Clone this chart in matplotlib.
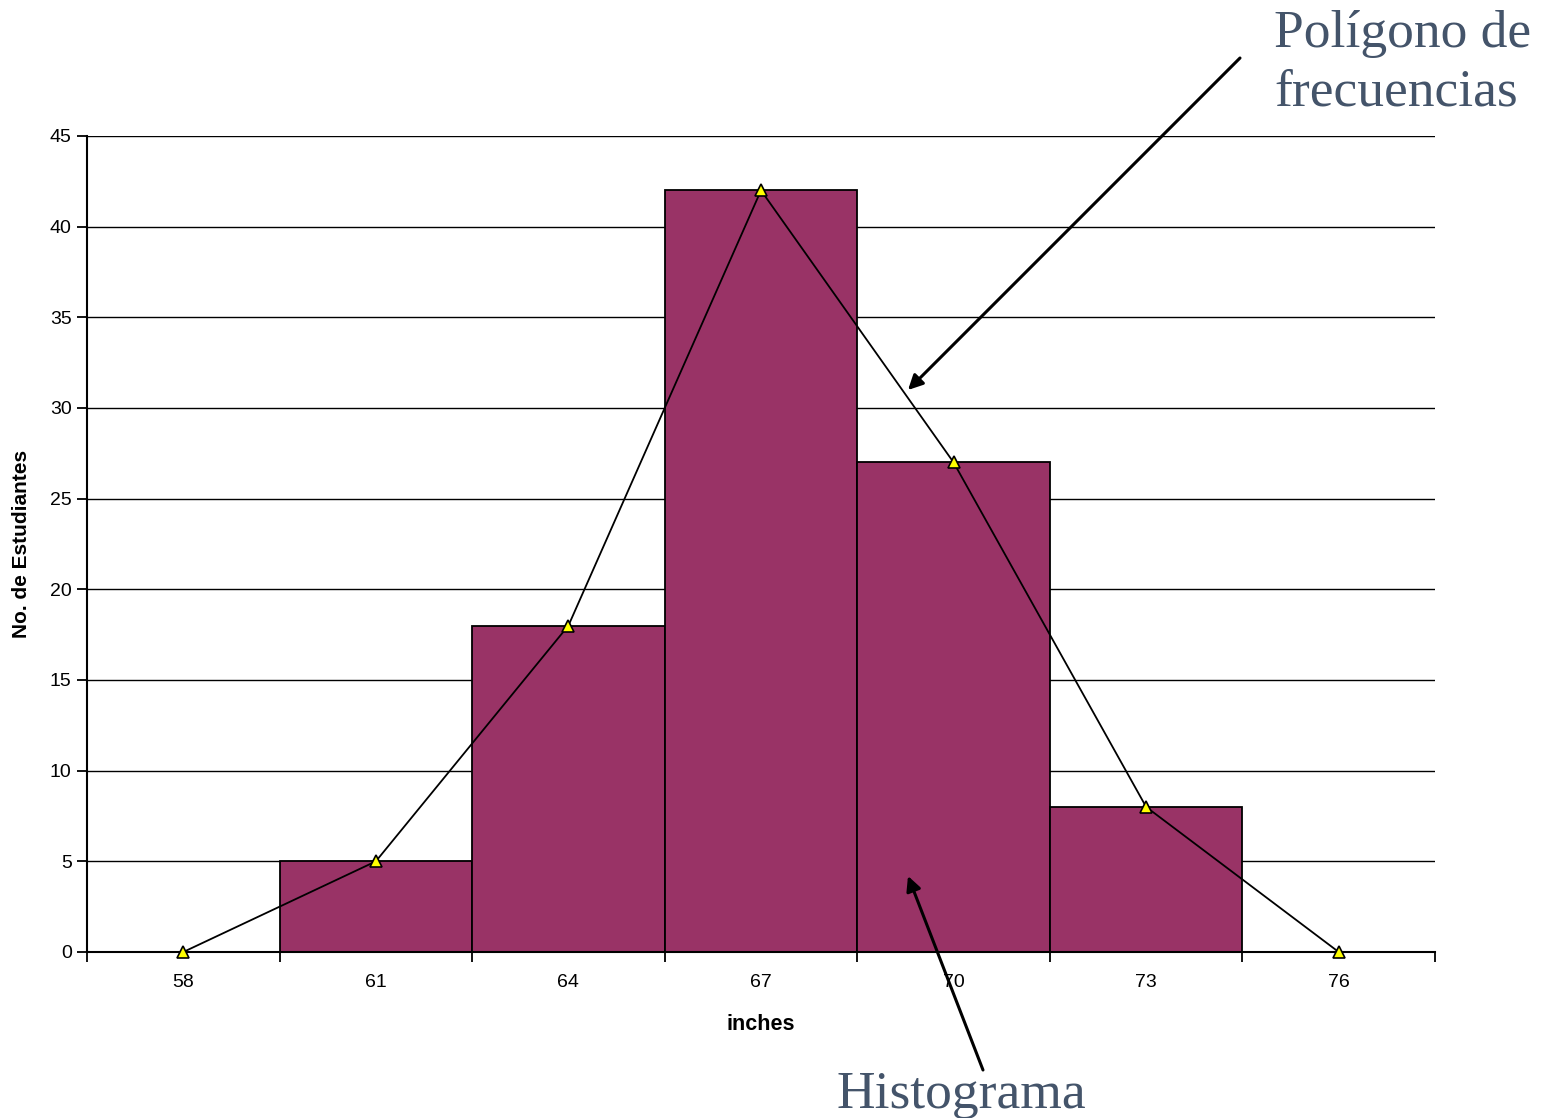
import matplotlib.pyplot as plt
from matplotlib.patches import FancyArrowPatch
from matplotlib.ticker import FixedLocator, NullFormatter

# data
categories = ['58', '61', '64', '67', '70', '73', '76']
hist_counts = [0, 5, 18, 42, 27, 8, 0]
poly_counts = [0, 5, 18, 42, 27, 8, 0]

bar_color = '#993366'
note_color = '#44546A'
sans = ['Liberation Sans', 'DejaVu Sans']
serif = ['Liberation Serif', 'DejaVu Serif']

fig = plt.figure(figsize=(15.52, 11.18), dpi=100)
ax = fig.add_axes([87 / 1552, 1 - 952 / 1118, (1435 - 87) / 1552, (952 - 136) / 1118])

x = list(range(len(categories)))
ax.bar(x, hist_counts, width=1.0, color=bar_color, edgecolor='black', linewidth=1.3, zorder=2)
ax.plot(x, poly_counts, color='black', linewidth=1.3, marker='^', markersize=8,
        markerfacecolor='#FFFF00', markeredgecolor='black', markeredgewidth=1.2,
        zorder=3, clip_on=False)

ax.set_xlim(-0.5, len(categories) - 0.5)
ax.set_ylim(0, 45)
ax.set_yticks(range(0, 46, 5))
ax.yaxis.grid(True, color='black', linewidth=1.0, zorder=0)
ax.set_axisbelow(True)

ax.set_xticks(x)
ax.set_xticklabels(categories)
ax.tick_params(axis='x', which='major', length=0, pad=16, labelsize=14)
ax.xaxis.set_minor_locator(FixedLocator([i - 0.5 for i in range(len(categories) + 1)]))
ax.xaxis.set_minor_formatter(NullFormatter())
ax.tick_params(axis='x', which='minor', length=7, width=1.3, direction='out', color='black')
ax.tick_params(axis='y', length=7, width=1.3, direction='out', labelsize=14, pad=4)

for lbl in ax.get_xticklabels() + ax.get_yticklabels():
    lbl.set_fontfamily(sans)

for side in ['top', 'right']:
    ax.spines[side].set_visible(False)
ax.spines['left'].set_linewidth(1.5)
ax.spines['bottom'].set_linewidth(1.5)

ax.set_xlabel('inches', fontsize=15.5, fontweight='bold', family=sans)
ax.set_ylabel('No. de Estudiantes', fontsize=15, fontweight='bold', family=sans)
ax.xaxis.set_label_coords(0.5, -(1025 - 952) / 816)
ax.yaxis.set_label_coords(-(87 - 22) / 1348, 0.5)
ax.xaxis.label.set_va('center')
ax.yaxis.label.set_va('center')

# notes with arrows, in figure pixel coordinates
def px(xp, yp):
    return (xp / 1552, 1 - yp / 1118)

note = dict(fontsize=38.5, color=note_color, family=serif, ha='left', va='baseline')
fig.text(*px(1274, 47), 'Polígono de', **note)
fig.text(*px(1274, 106), 'frecuencias', **note)
fig.text(*px(836, 1108), 'Histograma', **note)

arrow_style = dict(arrowstyle='-|>', color='black', lw=2.2, mutation_scale=22, shrinkA=0, shrinkB=0)
fig.add_artist(FancyArrowPatch(px(1240, 58), px(908, 390), transform=fig.transFigure, **arrow_style))
fig.add_artist(FancyArrowPatch(px(983, 1070), px(908, 876), transform=fig.transFigure, **arrow_style))

fig.savefig('out.png', dpi=100)
